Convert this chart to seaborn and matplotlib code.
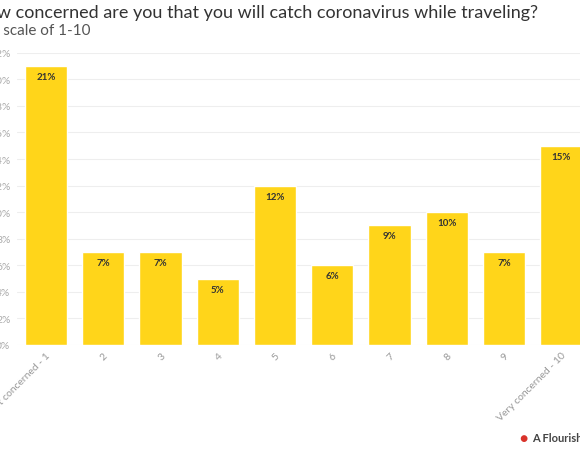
import matplotlib
matplotlib.use('Agg')
import matplotlib.pyplot as plt
import seaborn as sns
import pandas as pd

# data
categories = ['Not concerned - 1', '2', '3', '4', '5', '6', '7', '8', '9', 'Very concerned - 10']
shares = [21, 7, 7, 5, 12, 6, 9, 10, 7, 15]
y_ticks = list(range(0, 23, 2))

title = 'How concerned are you that you will catch coronavirus while traveling?'
subtitle = 'On a scale of 1-10'

sns.set_theme(style='white')
plt.rcParams['font.family'] = ['Lato', 'DejaVu Sans']

df = pd.DataFrame({'answer': categories, 'share': shares})

fig = plt.figure(figsize=(5.8, 4.6), dpi=100)
ax = fig.add_axes([0.030, 0.248, 0.987, 0.635])

sns.barplot(data=df, x='answer', y='share', color='#FFD51A', saturation=1,
            width=0.735, ax=ax, zorder=3)

ax.set_ylim(0, 22)
ax.set_xlim(-0.5, 9.5)
ax.set_yticks(y_ticks)
ax.set_yticklabels([f'{t}%' for t in y_ticks], color='#aaaaaa', fontsize=7.5)
ax.tick_params(axis='y', length=0, pad=5)
ax.tick_params(axis='x', length=0, pad=4)
ax.set_xticks(range(len(categories)))
ax.set_xticklabels(categories, rotation=45, ha='right', rotation_mode='anchor',
                   color='#999999', fontsize=7.5)
ax.grid(axis='y', color='#eeeeee', linewidth=0.8, zorder=0)
ax.set_xlabel('')
ax.set_ylabel('')
for s in ax.spines.values():
    s.set_visible(False)

for i, v in enumerate(shares):
    ax.text(i, v - 0.45, f'{v}%', ha='center', va='top', fontsize=7,
            fontweight='bold', color='#333333', zorder=4)

fig.text(-0.047, 0.972, title, fontsize=13, color='#333333', va='center')
fig.text(-0.0575, 0.932, subtitle, fontsize=11, color='#555555', va='center')

fig.text(0.896, 0.046, '●', color='#d9332b', fontsize=10, va='center')
fig.text(0.918, 0.046, 'A Flourish chart', color='#444444', fontsize=8,
         fontweight='bold', va='center')

fig.savefig('out.png', dpi=100)
